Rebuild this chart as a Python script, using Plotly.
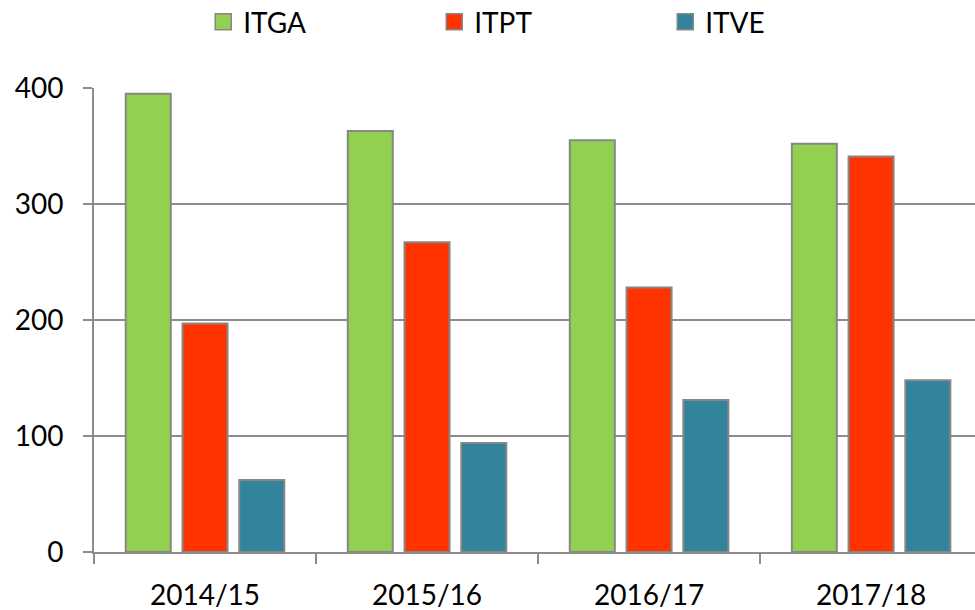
import plotly.graph_objects as go

categories = ["2014/15", "2015/16", "2016/17", "2017/18"]
series_names = ["ITGA", "ITPT", "ITVE"]
itga = [395, 363, 355, 352]
itpt = [197, 267, 228, 341]
itve = [62, 94, 131, 148]
y_ticks = [0, 100, 200, 300, 400]

colors = {"ITGA": "#92D050", "ITPT": "#FF3300", "ITVE": "#31849B"}
values = {"ITGA": itga, "ITPT": itpt, "ITVE": itve}

FONT = "Lato, 'Open Sans', sans-serif"
GRID = "#8c8c8c"

fig = go.Figure()
for name in series_names:
    fig.add_trace(go.Bar(
        x=categories, y=values[name], name=name,
        marker=dict(color=colors[name], line=dict(color="#878787", width=2)),
        showlegend=False,
    ))
# legend proxies (square swatches)
for name in series_names:
    fig.add_trace(go.Scatter(
        x=[None], y=[None], mode="markers", name=name,
        marker=dict(symbol="square", size=20, color=colors[name],
                    line=dict(color="#878787", width=1.5)),
        showlegend=True,
    ))

fig.update_layout(
    width=975, height=610,
    margin=dict(l=94, r=0, t=88, b=58, autoexpand=False),
    paper_bgcolor="white", plot_bgcolor="white",
    barmode="group", bargap=0.233, bargroupgap=0.207,
    font=dict(family=FONT, size=28, color="black"),
    legend=dict(
        orientation="h", x=0.124, xanchor="left", y=1.196, yanchor="top",
        entrywidth=186, entrywidthmode="pixels",
        itemsizing="trace", font=dict(family=FONT, size=28, color="black"),
        bgcolor="rgba(0,0,0,0)", itemwidth=30,
    ),
    xaxis=dict(
        type="category", range=[-0.5, 3.468], automargin=False,
        showline=True, linecolor=GRID, linewidth=2,
        ticks="outside", tickson="boundaries", ticklen=10, tickcolor=GRID, tickwidth=1.5,
        showgrid=False, ticklabelstandoff=17,
        tickfont=dict(family=FONT, size=28, color="black"),
    ),
    yaxis=dict(
        range=[0, 400], tickvals=y_ticks, automargin=False,
        showline=True, linecolor=GRID, linewidth=2,
        ticks="outside", ticklen=9, tickcolor=GRID, tickwidth=2,
        showgrid=True, gridcolor=GRID, gridwidth=2, zeroline=False,
        ticklabelstandoff=14,
        tickfont=dict(family=FONT, size=28, color="black"),
    ),
)

fig.write_html(
    "out.html",
    config={"displayModeBar": False},
    post_script="document.body.style.margin='0';document.body.style.padding='0';document.body.style.overflow='hidden';",
)
